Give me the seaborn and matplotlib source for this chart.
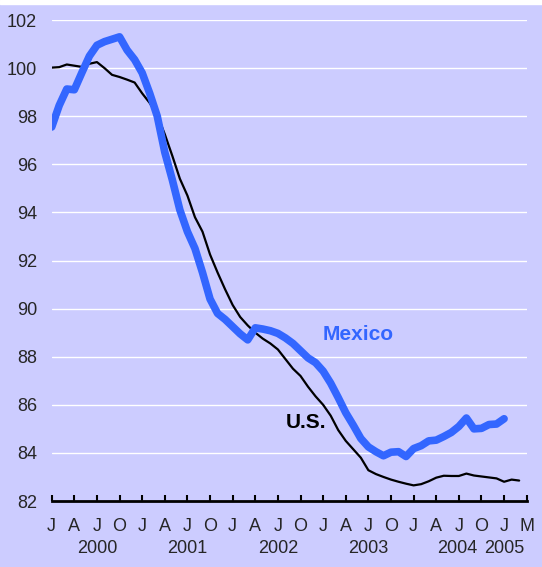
import numpy as np
import pandas as pd
import matplotlib
matplotlib.use("Agg")
from matplotlib import pyplot as plt
from matplotlib.patches import Rectangle
import seaborn as sns

# monthly index, Jan 2000 = 0
mexico = [97.55, 98.45, 99.13, 99.1, 99.81, 100.5, 100.95, 101.1, 101.2, 101.3,
          100.75, 100.35, 99.8, 98.95, 98.0, 96.5, 95.35, 94.1, 93.2, 92.5,
          91.5, 90.4, 89.8, 89.55, 89.25, 88.95, 88.7, 89.2, 89.15, 89.08,
          88.97, 88.78, 88.55, 88.25, 87.95, 87.75, 87.4, 86.9, 86.3, 85.67,
          85.15, 84.6, 84.25, 84.05, 83.88, 84.03, 84.05, 83.85, 84.18, 84.3,
          84.5, 84.53, 84.68, 84.85, 85.1, 85.45, 85.0, 85.02, 85.18, 85.2,
          85.42]
us = [100.02, 100.04, 100.15, 100.1, 100.05, 100.18, 100.25, 100.0, 99.72, 99.63,
      99.52, 99.4, 98.95, 98.55, 98.05, 97.25, 96.35, 95.4, 94.7, 93.8,
      93.2, 92.25, 91.5, 90.8, 90.15, 89.65, 89.3, 89.0, 88.75, 88.55,
      88.3, 87.9, 87.5, 87.2, 86.75, 86.35, 86.0, 85.55, 84.95, 84.5,
      84.15, 83.8, 83.28, 83.12, 83.0, 82.89, 82.8, 82.72, 82.65, 82.7,
      82.82, 82.97, 83.05, 83.04, 83.04, 83.14, 83.06, 83.02, 82.98, 82.94,
      82.8, 82.89, 82.85]

month_labels = ["J", "A", "J", "O"] * 5 + ["J", "M"]
year_labels = ["2000", "2001", "2002", "2003", "2004", "2005"]
year_pos = [6, 18, 30, 42, 53.8, 60]

bg = "#CCCCFF"
blue = "#3366FF"

sns.set_style("white", {"axes.facecolor": bg, "figure.facecolor": bg})
plt.rcParams['font.family'] = ['Liberation Sans', 'DejaVu Sans']

df_mx = pd.DataFrame({"m": np.arange(len(mexico)), "v": mexico})
df_us = pd.DataFrame({"m": np.arange(len(us)), "v": us})

fig = plt.figure(figsize=(5.42, 5.67), dpi=100)
fig.patch.set_facecolor(bg)
fig.patches.append(Rectangle((0, 1 - 4 / 567), 1, 4 / 567, transform=fig.transFigure,
                             color="white", zorder=0))
ax = fig.add_axes([51.7 / 542, (567 - 501) / 567, 475 / 542, 481 / 567])
ax.set_facecolor(bg)

sns.lineplot(data=df_us, x="m", y="v", color="black", linewidth=1.6, ax=ax, zorder=3)
sns.lineplot(data=df_mx, x="m", y="v", color=blue, linewidth=5.5, ax=ax, zorder=4,
             solid_capstyle="round", solid_joinstyle="round")

ax.set_xlim(0, 63)
ax.set_ylim(82, 102)
ax.set_yticks(np.arange(82, 103, 2))
ax.set_xticks(np.arange(0, 64, 3))
ax.set_xticklabels(month_labels)
ax.set_xlabel("")
ax.set_ylabel("")

ax.grid(axis="y", color="white", linewidth=1.0)
ax.grid(axis="x", visible=False)
ax.set_axisbelow(True)

for s in ["top", "right", "left"]:
    ax.spines[s].set_visible(False)
ax.spines["bottom"].set_color("black")
ax.spines["bottom"].set_linewidth(2.0)
ax.spines["bottom"].set_zorder(5)

ax.tick_params(axis="x", direction="in", length=4, width=1.5, color="black",
               labelsize=13, pad=12, bottom=True)
ax.tick_params(axis="y", length=0, labelsize=13, pad=10.6)

for yl, xp in zip(year_labels, year_pos):
    ax.annotate(yl, xy=(xp, 0), xycoords=("data", "axes fraction"),
                xytext=(0, -37.4), textcoords="offset points",
                ha="center", va="baseline", fontsize=13)

ax.text(40.66, 88.69, "Mexico", color=blue, fontsize=15, fontweight="bold",
        ha="center", va="baseline", zorder=6)
ax.text(33.7, 85.05, "U.S.", color="black", fontsize=15, fontweight="bold",
        ha="center", va="baseline", zorder=6)

fig.savefig("out.png", dpi=100, facecolor=fig.get_facecolor())
